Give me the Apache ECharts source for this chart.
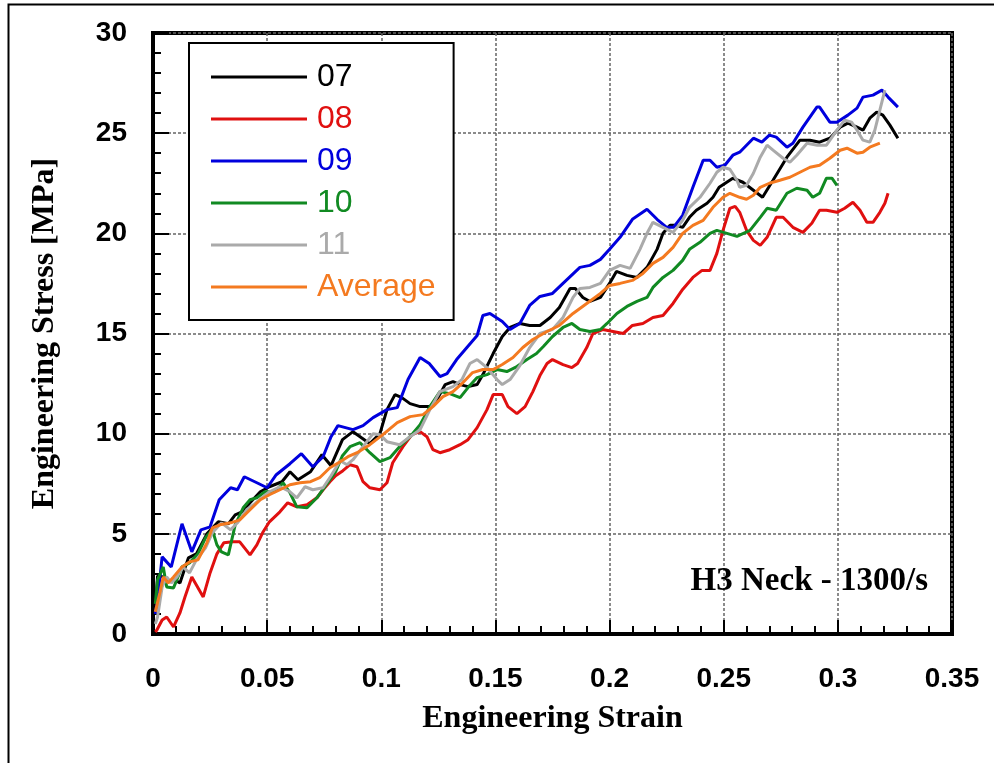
<!DOCTYPE html>
<html>
<head>
<meta charset="utf-8">
<script src="https://cdn.jsdelivr.net/npm/echarts@6/dist/echarts.min.js"></script>
<style>html,body{margin:0;padding:0;background:#fff;}#c{width:994px;height:763px;}</style>
</head>
<body>
<div id="c"></div>
<script>
// ---- Data (strain, stress [MPa]) ----
const seriesNames = ['07', '08', '09', '10', '11', 'Average'];
const xTicks = [0, 0.05, 0.1, 0.15, 0.2, 0.25, 0.3, 0.35];
const yTicks = [0, 5, 10, 15, 20, 25, 30];

const s07 = [[0.001,1.2],[0.002,2.9],[0.0045,2.85],[0.0066,2.6],[0.0096,2.7],[0.0118,2.55],[0.0155,3.8],[0.019,4.0],[0.0236,5.0],[0.0286,5.6],[0.033,5.5],[0.036,5.95],[0.039,6.1],[0.0425,6.55],[0.047,7.1],[0.051,7.35],[0.0565,7.6],[0.060,8.1],[0.0635,7.7],[0.069,8.1],[0.074,8.95],[0.078,8.4],[0.083,9.7],[0.0876,10.1],[0.0907,9.85],[0.095,9.5],[0.0994,10.0],[0.1025,11.2],[0.106,11.95],[0.109,11.8],[0.1126,11.5],[0.117,11.35],[0.1213,11.35],[0.1244,11.7],[0.128,12.45],[0.1314,12.6],[0.1345,12.45],[0.138,12.35],[0.142,12.45],[0.1445,12.95],[0.149,14.0],[0.153,14.85],[0.1564,15.3],[0.1607,15.5],[0.165,15.4],[0.1695,15.4],[0.174,15.8],[0.178,16.3],[0.1827,17.25],[0.185,17.25],[0.1883,16.8],[0.1914,16.6],[0.196,16.8],[0.200,17.5],[0.203,18.1],[0.2076,17.9],[0.212,17.8],[0.2164,18.3],[0.2208,19.2],[0.2234,20.0],[0.2265,20.4],[0.229,20.4],[0.232,20.3],[0.235,20.8],[0.238,21.15],[0.2427,21.5],[0.2453,21.8],[0.248,22.3],[0.254,22.75],[0.2584,22.55],[0.263,22.15],[0.267,21.8],[0.2716,22.65],[0.2777,23.8],[0.2834,24.65],[0.2878,24.65],[0.292,24.55],[0.2965,24.75],[0.301,25.3],[0.3044,25.5],[0.3084,25.3],[0.311,25.15],[0.314,25.75],[0.317,26.05],[0.3197,25.9],[0.3228,25.4],[0.3263,24.75]];

const s08 = [[0.001,0.1],[0.0017,0.2],[0.004,0.7],[0.006,0.85],[0.009,0.35],[0.0118,1.05],[0.014,1.85],[0.017,2.85],[0.019,2.45],[0.022,1.85],[0.025,3.05],[0.028,4.0],[0.031,4.55],[0.035,4.6],[0.038,4.6],[0.0425,3.95],[0.0455,4.45],[0.048,5.05],[0.051,5.6],[0.0556,6.1],[0.059,6.55],[0.063,6.35],[0.0675,6.45],[0.0718,6.8],[0.0745,7.2],[0.0775,7.6],[0.080,7.9],[0.0832,8.15],[0.0863,8.45],[0.0894,8.35],[0.092,7.6],[0.095,7.3],[0.0994,7.2],[0.1025,7.55],[0.105,8.55],[0.1095,9.35],[0.1134,9.95],[0.117,10.1],[0.12,9.85],[0.1226,9.2],[0.1257,9.05],[0.130,9.2],[0.1345,9.45],[0.138,9.7],[0.142,10.3],[0.1463,11.2],[0.149,11.95],[0.153,11.95],[0.1555,11.35],[0.1594,11.0],[0.163,11.35],[0.1664,12.1],[0.1695,12.9],[0.1726,13.5],[0.175,13.7],[0.1796,13.45],[0.1835,13.3],[0.186,13.5],[0.190,14.3],[0.1927,15.0],[0.197,15.2],[0.2015,15.1],[0.206,15.0],[0.210,15.4],[0.2146,15.5],[0.219,15.8],[0.2234,15.9],[0.2278,16.5],[0.232,17.2],[0.2365,17.8],[0.2405,18.15],[0.244,18.15],[0.247,19.0],[0.2497,20.15],[0.2527,21.25],[0.255,21.35],[0.257,21.05],[0.260,20.15],[0.263,19.65],[0.266,19.4],[0.269,19.8],[0.273,20.8],[0.276,20.8],[0.2803,20.3],[0.2847,20.05],[0.2886,20.5],[0.292,21.15],[0.295,21.15],[0.2996,21.05],[0.303,21.25],[0.3066,21.55],[0.3097,21.15],[0.3127,20.55],[0.3154,20.55],[0.3184,21.05],[0.3206,21.5],[0.322,22.0]];

const s09 = [[0.001,1.0],[0.002,1.7],[0.004,3.85],[0.008,3.35],[0.0127,5.5],[0.017,4.1],[0.021,5.2],[0.025,5.35],[0.029,6.7],[0.034,7.3],[0.037,7.2],[0.040,7.85],[0.0455,7.55],[0.050,7.3],[0.054,7.95],[0.060,8.5],[0.065,9.0],[0.070,8.35],[0.0745,8.85],[0.078,9.85],[0.081,10.4],[0.0876,10.2],[0.092,10.4],[0.0964,10.8],[0.1025,11.2],[0.107,11.3],[0.1117,12.7],[0.117,13.8],[0.121,13.5],[0.1257,12.85],[0.1288,13.0],[0.133,13.7],[0.1375,14.3],[0.142,14.9],[0.1445,15.9],[0.1476,16.0],[0.153,15.6],[0.1564,15.2],[0.1607,15.5],[0.165,16.4],[0.1695,16.85],[0.175,17.0],[0.1796,17.5],[0.187,18.3],[0.1914,18.4],[0.196,18.7],[0.200,19.2],[0.2046,19.8],[0.210,20.7],[0.2164,21.2],[0.2208,20.7],[0.225,20.3],[0.228,20.3],[0.232,20.9],[0.2365,22.3],[0.241,23.65],[0.244,23.65],[0.247,23.3],[0.2505,23.4],[0.254,23.9],[0.257,24.05],[0.263,24.75],[0.2667,24.55],[0.270,24.9],[0.273,24.8],[0.2777,24.3],[0.2803,24.5],[0.2847,25.3],[0.2908,26.3],[0.292,26.3],[0.2965,25.55],[0.2996,25.55],[0.3044,25.9],[0.3084,26.25],[0.311,26.8],[0.3154,26.9],[0.3193,27.15],[0.322,26.8],[0.3263,26.3]];

const s10 = [[0.001,1.5],[0.002,2.7],[0.0045,3.35],[0.006,2.35],[0.009,2.3],[0.0127,3.35],[0.016,3.55],[0.0197,4.0],[0.023,4.8],[0.026,5.2],[0.028,4.45],[0.030,4.1],[0.033,3.95],[0.036,5.45],[0.0395,6.3],[0.0425,6.7],[0.0455,6.8],[0.049,7.1],[0.0534,7.1],[0.057,7.55],[0.060,7.05],[0.063,6.35],[0.0675,6.3],[0.0718,6.8],[0.0775,7.7],[0.080,8.1],[0.083,8.9],[0.0863,9.35],[0.0907,9.55],[0.095,9.05],[0.0994,8.6],[0.1038,8.8],[0.108,9.35],[0.1126,9.85],[0.117,10.45],[0.1213,11.35],[0.1257,12.1],[0.130,12.0],[0.1345,11.8],[0.138,12.3],[0.142,12.8],[0.1463,12.95],[0.1507,13.2],[0.155,13.1],[0.1594,13.35],[0.1638,13.7],[0.168,14.0],[0.171,14.35],[0.175,14.85],[0.1796,15.3],[0.1835,15.5],[0.187,15.2],[0.1914,15.1],[0.196,15.2],[0.1989,15.5],[0.2032,16.0],[0.2076,16.35],[0.212,16.6],[0.2164,16.8],[0.219,17.3],[0.2234,17.8],[0.2278,18.15],[0.232,18.65],[0.235,19.2],[0.2396,19.55],[0.244,20.0],[0.247,20.15],[0.2514,20.0],[0.2558,19.85],[0.2615,20.15],[0.266,20.8],[0.269,21.25],[0.273,21.15],[0.2777,22.0],[0.282,22.25],[0.2865,22.15],[0.289,21.8],[0.292,22.0],[0.295,22.75],[0.2974,22.75],[0.2996,22.4]];

const s11 = [[0.001,0.5],[0.002,0.85],[0.004,2.35],[0.006,2.85],[0.008,2.55],[0.0105,2.85],[0.013,3.35],[0.016,3.05],[0.019,3.7],[0.023,4.3],[0.026,5.05],[0.030,5.55],[0.034,5.2],[0.037,5.55],[0.041,6.2],[0.044,6.45],[0.0477,6.8],[0.051,7.1],[0.0556,7.35],[0.060,7.1],[0.063,6.8],[0.0666,7.35],[0.070,7.2],[0.0745,7.3],[0.078,7.9],[0.082,8.65],[0.085,8.45],[0.0876,8.7],[0.092,9.35],[0.0964,10.0],[0.0994,9.95],[0.1025,9.6],[0.108,9.45],[0.1126,9.85],[0.117,10.2],[0.1213,11.2],[0.1257,12.1],[0.1314,12.35],[0.1353,12.7],[0.1388,13.5],[0.142,13.7],[0.1463,13.3],[0.1507,12.7],[0.153,12.45],[0.1564,12.7],[0.1607,13.4],[0.165,14.3],[0.1695,15.0],[0.175,15.2],[0.1796,15.8],[0.184,16.8],[0.187,17.25],[0.1914,17.3],[0.196,17.5],[0.200,18.15],[0.2046,18.4],[0.209,18.25],[0.2133,19.2],[0.2164,20.0],[0.219,20.55],[0.2234,20.3],[0.2278,20.05],[0.232,20.65],[0.235,21.3],[0.2396,21.8],[0.244,22.5],[0.247,23.05],[0.2497,23.3],[0.2527,23.2],[0.2558,22.65],[0.257,22.3],[0.260,22.4],[0.263,23.0],[0.266,23.8],[0.269,24.4],[0.2716,24.15],[0.276,23.75],[0.279,23.55],[0.282,23.9],[0.2865,24.5],[0.291,24.4],[0.295,24.4],[0.2996,25.15],[0.303,25.65],[0.306,25.55],[0.3084,25.15],[0.311,24.65],[0.314,24.55],[0.3162,25.15],[0.3184,26.15],[0.3206,27.15]];

const sAvg = [[0.001,1.1],[0.003,2.05],[0.0045,2.85],[0.0066,2.55],[0.009,2.85],[0.0127,3.35],[0.016,3.6],[0.0197,3.7],[0.0236,4.55],[0.026,5.3],[0.0293,5.45],[0.034,5.55],[0.038,5.7],[0.0425,6.2],[0.047,6.7],[0.051,6.95],[0.0556,7.2],[0.060,7.45],[0.0644,7.55],[0.069,7.6],[0.073,7.8],[0.0775,8.3],[0.082,8.6],[0.0854,8.85],[0.0894,9.05],[0.095,9.45],[0.1007,9.95],[0.107,10.55],[0.1126,10.85],[0.1183,10.95],[0.1226,11.35],[0.127,11.85],[0.1314,12.1],[0.1358,12.55],[0.140,13.05],[0.1445,13.2],[0.149,13.2],[0.153,13.45],[0.1577,13.8],[0.162,14.3],[0.1664,14.7],[0.1726,15.1],[0.178,15.4],[0.184,16.0],[0.190,16.5],[0.196,17.0],[0.200,17.4],[0.2046,17.5],[0.210,17.65],[0.2146,18.0],[0.219,18.5],[0.2234,18.8],[0.2278,19.3],[0.232,20.0],[0.2365,20.4],[0.241,20.65],[0.2453,21.3],[0.2497,21.8],[0.2527,22.0],[0.257,21.8],[0.260,21.7],[0.263,21.9],[0.266,22.3],[0.270,22.5],[0.2746,22.65],[0.279,22.8],[0.2834,23.05],[0.2878,23.3],[0.292,23.4],[0.2965,23.75],[0.301,24.15],[0.304,24.25],[0.3084,24.0],[0.311,24.05],[0.314,24.3],[0.3184,24.5]];

const seriesData = [s07, s08, s09, s10, s11, sAvg];
const seriesColors = ['#000000', '#e01010', '#0000dd', '#118a22', '#aaaaaa', '#f47a20'];

const chart = echarts.init(document.getElementById('c'), null, {renderer: 'canvas'});

const series = seriesNames.map((n, i) => ({
  name: n,
  type: 'line',
  data: seriesData[i],
  symbol: 'none',
  showSymbol: false,
  smooth: false,
  lineStyle: {color: seriesColors[i], width: 3},
  itemStyle: {color: seriesColors[i]},
  z: 3 + i
}));

const tickFont = {color: '#000', fontFamily: 'Liberation Sans, Arial, sans-serif', fontWeight: 'bold', fontSize: 28};
const titleFont = {color: '#000', fontFamily: 'Liberation Serif, Times New Roman, serif', fontWeight: 'bold', fontSize: 32};

chart.setOption({
  animation: false,
  backgroundColor: '#fff',
  grid: {left: 153, top: 33, right: 42, bottom: 129, show: true, borderColor: '#000', borderWidth: 4, backgroundColor: 'transparent'},
  legend: {
    orient: 'vertical',
    left: 189, top: 43,
    padding: [18, 18, 17, 22],
    backgroundColor: '#fff',
    borderColor: '#000',
    borderWidth: 2,
    borderRadius: 0,
    itemWidth: 96,
    itemHeight: 14,
    itemGap: 10,
    icon: 'path://M0,5.5 L96,5.5 L96,8.5 L0,8.5 Z',
    textStyle: {fontFamily: 'Liberation Sans, Arial, sans-serif', fontSize: 32, lineHeight: 32, padding: [0, 0, 0, 5]},
    data: seriesNames.map((n, i) => ({name: n, itemStyle: {color: seriesColors[i]}, textStyle: {color: seriesColors[i]}}))
  },
  xAxis: {
    type: 'value', min: xTicks[0], max: xTicks[xTicks.length - 1], interval: 0.05,
    name: 'Engineering Strain', nameLocation: 'middle', nameGap: 69, nameTextStyle: titleFont,
    axisLine: {show: true, onZero: false, lineStyle: {color: '#000', width: 4}},
    axisTick: {show: true, inside: true, length: 14, lineStyle: {color: '#000', width: 2}},
    minorTick: {show: true, splitNumber: 5, length: 8, lineStyle: {color: '#000', width: 2}},
    axisLabel: Object.assign({margin: 31, formatter: v => String(+v.toFixed(2))}, tickFont),
    splitLine: {show: true, lineStyle: {color: '#666', width: 1.5, type: [3, 2]}}
  },
  yAxis: {
    type: 'value', min: yTicks[0], max: yTicks[yTicks.length - 1], interval: 5,
    name: 'Engineering Stress [MPa]', nameLocation: 'middle', nameGap: 92, nameTextStyle: titleFont,
    axisLine: {show: true, onZero: false, lineStyle: {color: '#000', width: 4}},
    axisTick: {show: true, inside: true, length: 16, lineStyle: {color: '#000', width: 2}},
    minorTick: {show: true, splitNumber: 5, length: 8, lineStyle: {color: '#000', width: 2}},
    axisLabel: Object.assign({margin: 26}, tickFont),
    splitLine: {show: true, lineStyle: {color: '#666', width: 1.5, type: [3, 2]}}
  },
  graphic: [
    {type: 'rect', left: 6, top: 2, z: -10, silent: true,
     shape: {width: 1200, height: 1200}, style: {fill: 'none', stroke: '#000', lineWidth: 2}},
    {type: 'text', right: 66, top: 565, z: 100, silent: true,
     style: {text: 'H3 Neck - 1300/s', fill: '#000', font: 'bold 33px "Liberation Serif", "Times New Roman", serif'}}
  ],
  series: series
});
</script>
</body>
</html>
